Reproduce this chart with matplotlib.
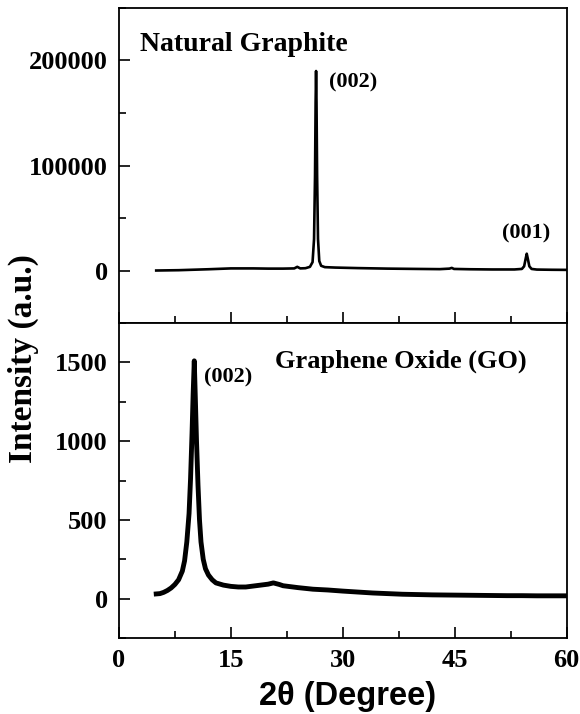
import matplotlib
matplotlib.use("Agg")
import matplotlib.pyplot as plt
from matplotlib.ticker import MultipleLocator

# natural graphite trace (2theta, counts)
graphite_x = [5, 8, 12, 15, 18, 20, 22, 23.5, 23.9, 24.3, 25, 25.6, 25.95,
              26.15, 26.28, 26.36, 26.42, 26.48, 26.56, 26.68, 26.85, 27.1,
              27.6, 29, 32, 36, 40, 43, 44.3, 44.6, 44.9, 47, 50, 53, 54.0,
              54.3, 54.5, 54.65, 54.8, 55.0, 55.3, 56, 58, 60]
graphite_y = [0, 300, 1200, 2000, 2000, 1800, 1800, 2000, 3500, 2000, 2200,
              3500, 8000, 30000, 90000, 160000, 190000, 160000, 90000, 30000,
              9000, 4500, 3200, 2800, 2300, 1800, 1500, 1300, 1800, 2500, 1500,
              1200, 1000, 1000, 1500, 4000, 11000, 16000, 11000, 4000, 1500,
              900, 700, 600]

# graphene oxide trace
go_x = [5, 5.5, 6, 6.5, 7, 7.5, 8, 8.5, 8.8, 9.1, 9.4, 9.6, 9.8, 9.95, 10.1,
        10.25, 10.4, 10.6, 10.8, 11.0, 11.3, 11.6, 12.0, 12.5, 13, 14, 15, 16,
        17, 18, 19, 20, 20.7, 21.5, 22, 23, 24, 25, 26, 28, 30, 32, 34, 36, 38,
        40, 42, 44, 46, 48, 50, 52, 54, 56, 58, 60]
go_y = [30, 32, 40, 52, 68, 90, 120, 175, 240, 360, 540, 760, 1050, 1300, 1510,
        1260, 1000, 720, 500, 360, 250, 190, 150, 120, 100, 86, 78, 74, 74, 80,
        86, 92, 100, 90, 82, 76, 70, 65, 60, 55, 48, 42, 36, 32, 28, 26, 24,
        23, 22, 21, 20, 19, 19, 18, 18, 18]

serif = "Liberation Serif"

fig = plt.figure(figsize=(5.8, 7.14), dpi=100)
ax1 = fig.add_axes([0.205, 0.5476, 0.772, 0.4412])
ax2 = fig.add_axes([0.205, 0.1064, 0.772, 0.4412], sharex=ax1)

ax1.plot(graphite_x, graphite_y, color="black", lw=1.9)
ax2.plot(go_x, go_y, color="black", lw=3.5)

ax1.set_xlim(0, 60)
ax1.set_ylim(-50000, 250000)
ax2.set_ylim(-250, 1750)

ax1.xaxis.set_major_locator(MultipleLocator(15))
ax1.xaxis.set_minor_locator(MultipleLocator(7.5))
ax1.yaxis.set_major_locator(MultipleLocator(100000))
ax1.yaxis.set_minor_locator(MultipleLocator(50000))
ax2.yaxis.set_major_locator(MultipleLocator(500))
ax2.yaxis.set_minor_locator(MultipleLocator(250))

for ax in (ax1, ax2):
    for s in ax.spines.values():
        s.set_linewidth(1.3)
    ax.tick_params(which="both", direction="in", top=False, right=False,
                   width=1.2, pad=8)
    ax.tick_params(which="major", length=8)
    ax.tick_params(which="minor", length=5)
    for lab in ax.get_xticklabels() + ax.get_yticklabels():
        lab.set_fontfamily(serif)
        lab.set_fontweight("bold")
        lab.set_fontsize(19)
ax1.tick_params(labelbottom=False)

tfont = dict(family=serif, weight="bold")
ax1.text(2.8, 209500, "Natural Graphite", fontsize=20, va="baseline", **tfont)
ax1.text(28.2, 174000, "(002)", fontsize=16, va="baseline", **tfont)
ax1.text(51.4, 30500, "(001)", fontsize=16, va="baseline", **tfont)
ax2.text(20.9, 1468, "Graphene Oxide (GO)", fontsize=19, va="baseline", **tfont)
ax2.text(11.4, 1373, "(002)", fontsize=16, va="baseline", **tfont)

fig.text(0.041, 0.498, "Intensity (a.u.)", rotation=90, ha="center",
         va="center", fontsize=24, **tfont)
fig.text(0.6, 0.024, "2\u03b8 (Degree)", ha="center", va="center",
         fontsize=23.5, family="Liberation Sans", weight="bold")

fig.savefig("out.png", dpi=100)
